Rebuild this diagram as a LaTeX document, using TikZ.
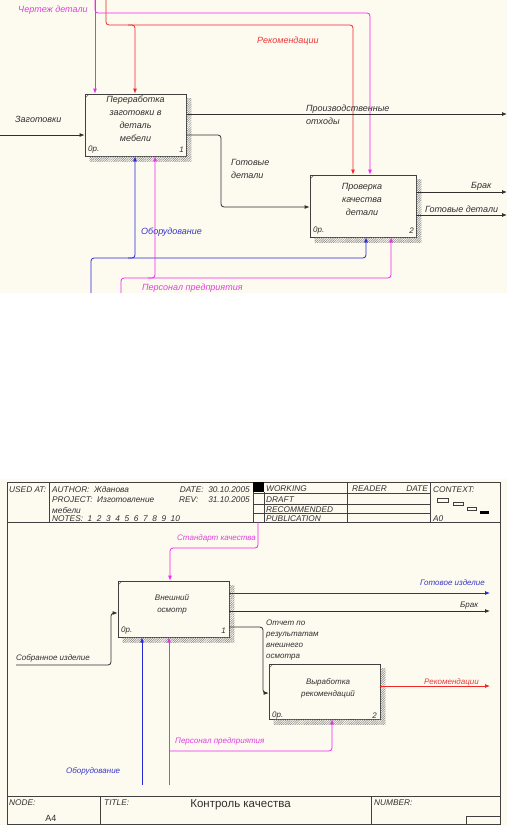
\documentclass[tikz,border=0pt]{standalone}
\usepackage{fontspec}
\setmainfont{Liberation Sans}
\usetikzlibrary{arrows.meta,patterns.meta}
\definecolor{cream}{HTML}{FDFAF0}
\definecolor{mag}{HTML}{F028F0}
\definecolor{magtxt}{HTML}{E040E0}
\definecolor{redl}{HTML}{F02828}
\definecolor{redtxt}{HTML}{E83838}
\definecolor{bluel}{HTML}{2828D8}
\definecolor{bluetxt}{HTML}{3838C8}
\definecolor{edge}{HTML}{404040}
\definecolor{txt}{HTML}{303030}
\begin{document}
\begin{tikzpicture}[x=1pt,y=-1pt,
  conn/.style={draw=txt, line width=0.8pt, rounded corners=3pt, -{Latex[length=5pt,width=4pt]}},
  plain/.style={draw=txt, line width=0.8pt, rounded corners=3pt},
  func/.style={draw=edge, line width=0.8pt, fill=cream, inner sep=0pt},
  shade/.style={pattern={Lines[angle=45,distance=1.6pt,line width=0.5pt]}, pattern color=gray},
  lbl/.style={font=\fontsize{9}{13}\selectfont\itshape, inner sep=0pt, align=left, text=txt, anchor=west},
  lblb/.style={lbl, font=\fontsize{8}{11.3}\selectfont\itshape},
  boxt/.style={font=\fontsize{9}{13}\selectfont\itshape, inner sep=0pt, align=center, text=txt},
  boxtb/.style={boxt, font=\fontsize{8}{12}\selectfont\itshape},
  hdr/.style={font=\fontsize{8.3}{9}\selectfont\itshape, inner sep=0pt, anchor=west, text=txt},
  frm/.style={draw=edge, line width=0.8pt}]
\useasboundingbox (0,0) rectangle (507,825);
\fill[white] (0,0) rectangle (507,825);
% ================= TOP DIAGRAM =================
\fill[cream] (0,0) rectangle (507,293);
\node[func, minimum width=101pt, minimum height=62pt] (box1) at (135.5,125) {};
\node[func, minimum width=106pt, minimum height=62pt] (box2) at (363,206) {};
\foreach \b in {box1,box2}{
  \fill[shade] ([yshift=-5pt]\b.north east) rectangle ([xshift=5pt,yshift=-5pt]\b.south east);
  \fill[shade] ([xshift=5pt]\b.south west) rectangle ([yshift=-5pt]\b.south east);
  \draw[edge, line width=0.4pt] ([xshift=1pt,yshift=-4pt]\b.north west) -- ([xshift=4pt,yshift=-1pt]\b.north west);
}
\node[boxt] (t1) at (135.5,118.5) {Переработка\\заготовки в\\деталь\\мебели};
\node[boxt] (t2) at (362,199) {Проверка\\качества\\детали};
\node[lblb, anchor=west] (c1) at (88,150) {0р.};
\node[lblb, anchor=east] (n1) at (184,150) {1};
\node[lblb, anchor=west] (c2) at (313,231) {0р.};
\node[lblb, anchor=east] (n2) at (414,231) {2};

\coordinate (chSrc) at (95,0);
\coordinate (recSrc) at (106,0);
\coordinate (zagSrc) at (0,135);
\coordinate (otxEnd) at (507,114);
\coordinate (brakEnd) at (507,192);
\coordinate (gdEnd) at (507,215);
\coordinate (oborSrc) at (91,293);
\coordinate (persSrc) at (121,293);

\draw[conn, draw=mag] (chSrc) -- (95,0 |- box1.north);
\draw[conn, draw=mag] (chSrc) -- (95,13) -- (370,13) -- (370,0 |- box2.north);
\draw[conn, draw=redl] (recSrc) -- (106,25) -- (353,25) -- (353,0 |- box2.north);
\draw[conn, draw=redl] (128,25) -- (135,25) -- (135,0 |- box1.north);
\draw[conn] (zagSrc) -- (zagSrc -| box1.west);
\draw[conn] (box1.east |- 0,114) -- (otxEnd);
\draw[conn] (box1.east |- 0,135) -- (221,135) -- (221,207) -- (box2.west |- 0,207);
\draw[conn] (box2.east |- 0,192) -- (brakEnd);
\draw[conn] (box2.east |- 0,215) -- (gdEnd);
\draw[conn, draw=bluel] (oborSrc) -- (91,258) -- (366,258) -- (366,0 |- box2.south);
\draw[conn, draw=bluel] (128,258) -- (135,258) -- (135,0 |- box1.south);
\draw[conn, draw=mag] (persSrc) -- (121,278) -- (391,278) -- (391,0 |- box2.south);
\draw[conn, draw=mag] (148,278) -- (155,278) -- (155,0 |- box1.south);

\node[lbl, text=magtxt] (l1) at (18,10) {Чертеж детали};
\node[lbl, text=redtxt] (l2) at (257,41) {Рекомендации};
\node[lbl] (l3) at (15,119) {Заготовки};
\node[lbl] (l4) at (306,114.5) {Производственные\\отходы};
\node[lbl] (l5) at (231,168.5) {Готовые\\детали};
\node[lbl] (l6) at (471,186) {Брак};
\node[lbl] (l7) at (425,209) {Готовые детали};
\node[lbl, text=bluetxt] (l8) at (141,232) {Оборудование};
\node[lbl, text=magtxt] (l9) at (142,288) {Персонал предприятия};

% ================= BOTTOM DIAGRAM =================
\fill[cream] (0,479) rectangle (507,825);
\draw[frm] (7,482) rectangle (500,824);
% header
\draw[frm] (7,522) -- (500,522);
\draw[frm] (49,482) -- (49,522);
\draw[frm] (253,482) -- (253,522);
\draw[frm] (264,492) -- (264,522);
\draw[frm] (347,482) -- (347,522);
\draw[frm] (430,482) -- (430,522);
\foreach \yy in {493.5,504,513.5}{ \draw[frm, line width=0.6pt] (253,\yy) -- (430,\yy); }
\fill[black] (253,482) rectangle (264,492);
\node[hdr] (h1) at (9,490) {USED AT:};
\node[hdr] (h2) at (52,490) {AUTHOR:\ \ Жданова};
\node[hdr, anchor=east] (h3) at (250,490) {DATE:\ \ 30.10.2005};
\node[hdr] (h4) at (52,500) {PROJECT:\ \ Изготовление};
\node[hdr] (h5) at (179,500) {REV:};
\node[hdr, anchor=east] (h6) at (250,500) {31.10.2005};
\node[hdr] (h7) at (52,510) {мебели};
\node[hdr] (h8) at (52,519) {NOTES:\ \ 1\ \ 2\ \ 3\ \ 4\ \ 5\ \ 6\ \ 7\ \ 8\ \ 9\ \ 10};
\node[hdr] (h9) at (266,489) {WORKING};
\node[hdr] (h10) at (266,499.5) {DRAFT};
\node[hdr] (h11) at (266,509.5) {RECOMMENDED};
\node[hdr] (h12) at (266,519) {PUBLICATION};
\node[hdr] (h13) at (352,489) {READER};
\node[hdr, anchor=east] (h14) at (428,489) {DATE};
\node[hdr] (h15) at (433,490) {CONTEXT:};
\node[hdr] (h16) at (433,519) {A0};
\draw[edge, line width=0.6pt, fill=cream] (437,498.5) rectangle (448,502.5);
\draw[edge, line width=0.6pt, fill=cream] (453,502) rectangle (463,505.5);
\draw[edge, line width=0.6pt, fill=cream] (467,507) rectangle (476,510);
\fill[black] (480,511) rectangle (489,514);
% footer
\draw[frm] (7,796) -- (500,796);
\draw[frm] (100,796) -- (100,824);
\draw[frm] (371,796) -- (371,824);
\draw[frm] (466,816) rectangle (500,824);
\node[hdr] (f1) at (9,803) {NODE:};
\node[hdr] (f2) at (104,803) {TITLE:};
\node[hdr] (f3) at (374,803) {NUMBER:};
\node[font=\fontsize{9}{10}\selectfont, inner sep=0pt, text=txt] (f4) at (51,818.5) {A4};
\node[font=\fontsize{11.5}{13}\selectfont, inner sep=0pt, text=txt] (f5) at (240.5,805) {Контроль качества};

% boxes
\node[func, minimum width=111pt, minimum height=56pt] (boxA) at (173.5,609) {};
\node[func, minimum width=111pt, minimum height=55pt] (boxB) at (324.5,691.5) {};
\foreach \b in {boxA,boxB}{
  \fill[shade] ([yshift=-5pt]\b.north east) rectangle ([xshift=5pt,yshift=-5pt]\b.south east);
  \fill[shade] ([xshift=5pt]\b.south west) rectangle ([yshift=-5pt]\b.south east);
  \draw[edge, line width=0.4pt] ([xshift=1pt,yshift=-4pt]\b.north west) -- ([xshift=4pt,yshift=-1pt]\b.north west);
}
\node[boxtb] (tA) at (172,604) {Внешний\\осмотр};
\node[boxtb] (tB) at (328,688) {Выработка\\рекомендаций};
\node[lblb, anchor=west] (cA) at (121,631) {0р.};
\node[lblb, anchor=east] (nA) at (226,631) {1};
\node[lblb, anchor=west] (cB) at (272,716) {0р.};
\node[lblb, anchor=east] (nB) at (377,716) {2};

\coordinate (stdSrc) at (258,522);
\coordinate (gotEnd) at (490,593);
\coordinate (brEnd) at (490,611);
\coordinate (recEnd) at (490,686);
\coordinate (sobSrc) at (16,665);
\coordinate (obSrc) at (142,785);
\coordinate (peSrc) at (169,785);

\draw[conn, draw=mag] (stdSrc) -- (258,548) -- (170,548) -- (170,0 |- boxA.north);
\draw[conn, draw=bluel] (boxA.east |- 0,593) -- (gotEnd);
\draw[conn] (boxA.east |- 0,611) -- (brEnd);
\draw[conn] (boxA.east |- 0,627) -- (263,627) -- (263,693) -- (boxB.west |- 0,693);
\draw[conn, draw=redl] (boxB.east |- 0,686) -- (recEnd);
\draw[conn] (sobSrc) -- (111,665) -- (111,613) -- (boxA.west |- 0,613);
\draw[conn, draw=bluel] (obSrc) -- (142,0 |- boxA.south);
\draw[conn, draw=mag] (peSrc) -- (169,0 |- boxA.south);
\draw[conn, draw=mag] (169,751) -- (332,751) -- (332,0 |- boxB.south);

\node[lblb, text=magtxt] (m1) at (177,538) {Стандарт качества};
\node[lblb, text=bluetxt] (m2) at (420,583) {Готовое изделие};
\node[lblb] (m3) at (460,606) {Брак};
\node[lblb] (m4) at (266,640) {Отчет по\\результатам\\внешнего\\осмотра};
\node[lblb, text=redtxt] (m5) at (424,682) {Рекомендации};
\node[lblb] (m6) at (16,658) {Собранное изделие};
\node[lblb, text=bluetxt] (m7) at (66,771) {Оборудование};
\node[lblb, text=magtxt] (m8) at (175,741) {Персонал предприятия};
\end{tikzpicture}
\end{document}
